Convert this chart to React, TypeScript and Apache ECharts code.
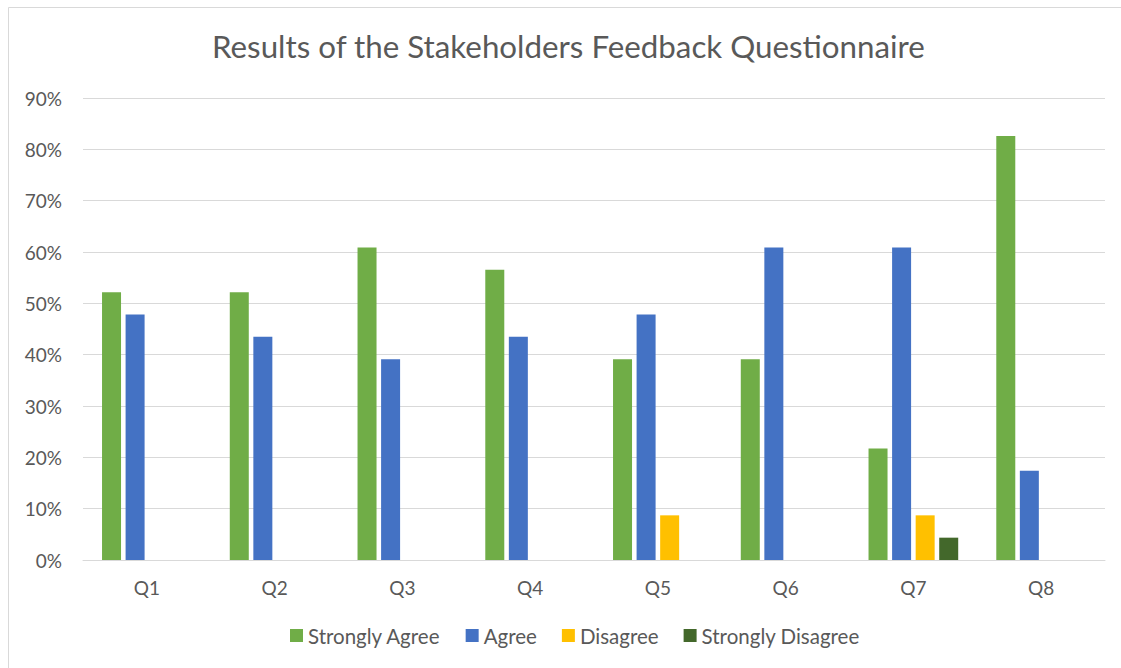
import React, { useEffect, useRef } from "react";
import * as echarts from "echarts";

const categories = ["Q1", "Q2", "Q3", "Q4", "Q5", "Q6", "Q7", "Q8"];
const seriesNames = ["Strongly Agree", "Agree", "Disagree", "Strongly Disagree"];
const stronglyAgree = [52.17, 52.17, 60.87, 56.52, 39.13, 39.13, 21.74, 82.61];
const agree = [47.83, 43.48, 39.13, 43.48, 47.83, 60.87, 60.87, 17.39];
const disagree = [0, 0, 0, 0, 8.7, 0, 8.7, 0];
const stronglyDisagree = [0, 0, 0, 0, 0, 0, 4.35, 0];
const colors = ["#70AD47", "#4472C4", "#FFC000", "#43682B"];

export default function App() {
  const ref = useRef<HTMLDivElement>(null);
  useEffect(() => {
    const chart = echarts.init(ref.current!, undefined, { renderer: "svg" });
    const font = "Lato, 'Noto Sans', sans-serif";
    const data = [stronglyAgree, agree, disagree, stronglyDisagree];
    chart.setOption({
      animation: false,
      color: colors,
      textStyle: { fontFamily: font },
      graphic: [
        {
          type: "rect",
          shape: { x: 8.5, y: 7.5, width: 1200, height: 700 },
          style: { fill: "none", stroke: "#D9D9D9", lineWidth: 1 },
          silent: true,
        },
      ],
      title: {
        text: "Results of the Stakeholders Feedback Questionnaire",
        left: 207,
        top: 25,
        textStyle: { fontFamily: font, fontSize: 31.3, fontWeight: "normal", color: "#595959" },
      },
      legend: {
        bottom: 17,
        left: 285,
        itemWidth: 13,
        itemHeight: 13,
        itemGap: 25,
        icon: "rect",
        textStyle: { fontFamily: font, fontSize: 20.5, color: "#595959" },
        data: seriesNames,
      },
      grid: { left: 83, right: 16, top: 98, bottom: 108, containLabel: false },
      xAxis: {
        type: "category",
        data: categories,
        axisLine: { lineStyle: { color: "#D9D9D9", width: 1 } },
        axisTick: { show: false },
        axisLabel: { fontFamily: font, fontSize: 19, color: "#595959", margin: 18 },
      },
      yAxis: {
        type: "value",
        min: 0,
        max: 90,
        interval: 10,
        axisLine: { show: false },
        axisTick: { show: false },
        splitLine: { lineStyle: { color: "#D9D9D9", width: 1 } },
        axisLabel: { fontFamily: font, fontSize: 19, color: "#595959", margin: 21, formatter: "{value}%" },
      },
      series: seriesNames.map((name, i) => ({
        name,
        type: "bar",
        data: data[i],
        barWidth: 19,
        barGap: "24%",
        itemStyle: { color: colors[i] },
      })),
    });
    return () => chart.dispose();
  }, []);
  return (
    <div
      ref={ref}
      style={{ position: "absolute", left: 0, top: 0, width: 1121, height: 668, background: "#fff" }}
    />
  );
}
